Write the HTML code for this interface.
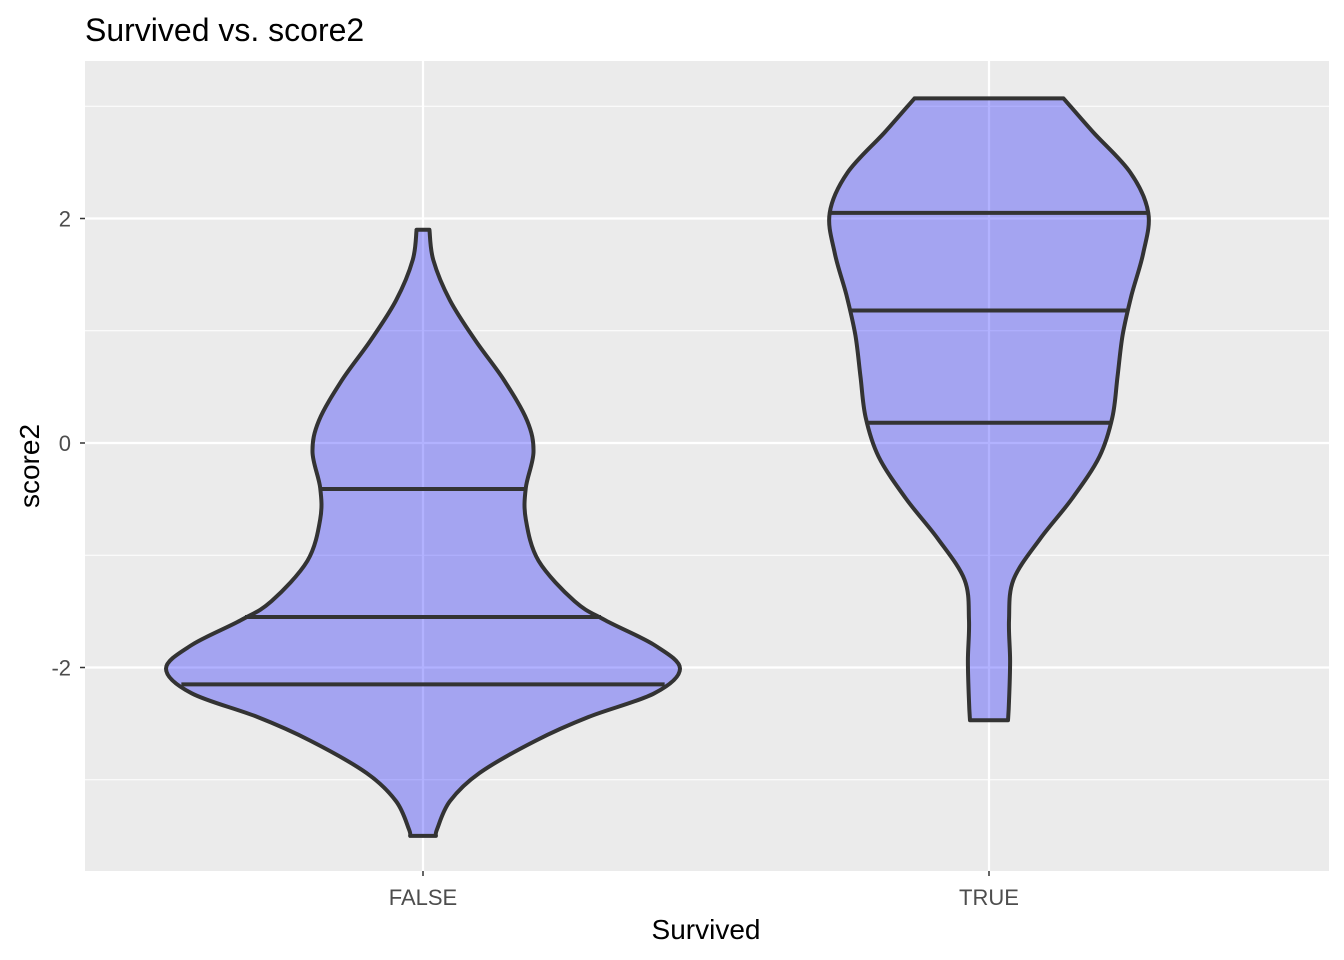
<!DOCTYPE html>
<html><head><meta charset="utf-8"><style>
body{margin:0;background:#fff}
svg{display:block;font-family:"Liberation Sans",sans-serif}
</style></head><body>
<svg id="chart" width="1344" height="960">
<rect x="0" y="0" width="1344" height="960" fill="#fff"/>
<text x="85" y="41" font-size="32" fill="#000">Survived vs. score2</text>
<rect x="85" y="61" width="1244" height="810" fill="#ebebeb"/>
<g id="grid"></g>
<g id="violins"></g>
<g id="axes"></g>
<text x="706" y="939" font-size="28" text-anchor="middle" fill="#000">Survived</text>
<text transform="translate(39,466) rotate(-90)" font-size="28" text-anchor="middle" fill="#000">score2</text>
</svg>
<script>
const categories = ["FALSE", "TRUE"];
const yTicks = [-2, 0, 2];
const yMinor = [-3, -1, 1, 3];
const falseY = [1.90,1.63,1.27,0.91,0.56,0.20,-0.08,-0.40,-0.68,-1.05,-1.41,-1.58,-1.80,-2.01,-2.23,-2.44,-2.65,-2.94,-3.19,-3.44,-3.50];
const falseDensity = [0.025,0.04,0.105,0.205,0.315,0.405,0.43,0.40,0.40,0.45,0.59,0.71,0.90,1.0,0.90,0.645,0.44,0.22,0.105,0.055,0.05];
const trueY = [3.07,2.77,2.41,2.05,1.69,1.32,0.96,0.59,0.23,-0.12,-0.49,-0.85,-1.22,-1.58,-1.94,-2.30,-2.47];
const trueDensity = [0.29,0.405,0.55,0.62,0.60,0.555,0.52,0.50,0.48,0.43,0.325,0.20,0.095,0.078,0.082,0.078,0.074];
const falseQuantiles = [-0.41, -1.55, -2.15];
const trueQuantiles = [2.05, 1.18, 0.18];

const NS = "http://www.w3.org/2000/svg";
const panel = {x0:85, x1:1329, y0:61, y1:871};
function yScale(v){ return 443 - v*112.25; }
function xScale(i){ return 423 + i*566; }
const halfBand = 257;
function wScale(d){ return d*halfBand; }
function mk(tag, attrs, parent){
  const e = document.createElementNS(NS, tag);
  for (const k in attrs) e.setAttribute(k, attrs[k]);
  parent.appendChild(e); return e;
}
const grid = document.getElementById('grid');
yMinor.forEach(v=>{
  const l = mk('line',{x1:panel.x0,x2:panel.x1,y1:yScale(v),y2:yScale(v),stroke:'#fff','stroke-width':1.1},grid);
  
  
});
yTicks.forEach(v=>{
  const l = mk('line',{x1:panel.x0,x2:panel.x1,y1:yScale(v),y2:yScale(v),stroke:'#fff','stroke-width':2.2},grid);
  
  
});
categories.forEach((c,i)=>{
  const l = mk('line',{x1:xScale(i),x2:xScale(i),y1:panel.y0,y2:panel.y1,stroke:'#fff','stroke-width':2.2},grid);
  
  
});

function smooth(pts){
  let d = '';
  for (let i=0;i<pts.length-1;i++){
    const p0=pts[Math.max(0,i-1)], p1=pts[i], p2=pts[i+1], p3=pts[Math.min(pts.length-1,i+2)];
    const c1=[p1[0]+(p2[0]-p0[0])/6, p1[1]+(p2[1]-p0[1])/6];
    const c2=[p2[0]-(p3[0]-p1[0])/6, p2[1]-(p3[1]-p1[1])/6];
    d += ` C${c1[0].toFixed(1)},${c1[1].toFixed(1)} ${c2[0].toFixed(1)},${c2[1].toFixed(1)} ${p2[0].toFixed(1)},${p2[1].toFixed(1)}`;
  }
  return d;
}
function interp(ys, ds, v){
  for (let i=0;i<ys.length-1;i++){
    if ((v<=ys[i] && v>=ys[i+1])){
      const t=(v-ys[i])/(ys[i+1]-ys[i]); return ds[i]+t*(ds[i+1]-ds[i]);
    }
  }
  return 0;
}
const vg = document.getElementById('violins');
const series = [[falseY,falseDensity,falseQuantiles],[trueY,trueDensity,trueQuantiles]];
series.forEach((s,i)=>{
  const [ys,ds,qs]=s; const cx=xScale(i);
  const right = ys.map((v,k)=>[cx+wScale(ds[k]), yScale(v)]);
  const left = ys.map((v,k)=>[cx-wScale(ds[k]), yScale(v)]).reverse();
  let d = `M${left[left.length-1][0]},${left[left.length-1][1]} L${right[0][0]},${right[0][1]}` + smooth(right)
        + ` L${left[0][0]},${left[0][1]}` + smooth(left) + ' Z';
  const p = mk('path',{d:d,fill:'#0000ff','fill-opacity':0.3,stroke:'#333','stroke-width':4,'stroke-linejoin':'round'},vg);
  
  
  qs.forEach(q=>{
    const w = wScale(interp(ys,ds,q)) + 1;
    const l = mk('line',{x1:cx-w,x2:cx+w,y1:yScale(q),y2:yScale(q),stroke:'#333','stroke-width':4},vg);
    
    
  });
});
const ax = document.getElementById('axes');
yTicks.forEach(v=>{
  const t = mk('line',{x1:80,x2:85,y1:yScale(v),y2:yScale(v),stroke:'#333','stroke-width':1.5},ax);
  
  
  const tx = mk('text',{x:71,y:yScale(v)+8,'font-size':22,'text-anchor':'end',fill:'#4d4d4d'},ax);
  tx.textContent = String(v);
  
  
});
categories.forEach((c,i)=>{
  const t = mk('line',{x1:xScale(i),x2:xScale(i),y1:871,y2:876,stroke:'#333','stroke-width':1.5},ax);
  
  
  const tx = mk('text',{x:xScale(i),y:905,'font-size':22,'text-anchor':'middle',fill:'#4d4d4d'},ax);
  tx.textContent = c;
  
  
});
</script>
</body></html>
